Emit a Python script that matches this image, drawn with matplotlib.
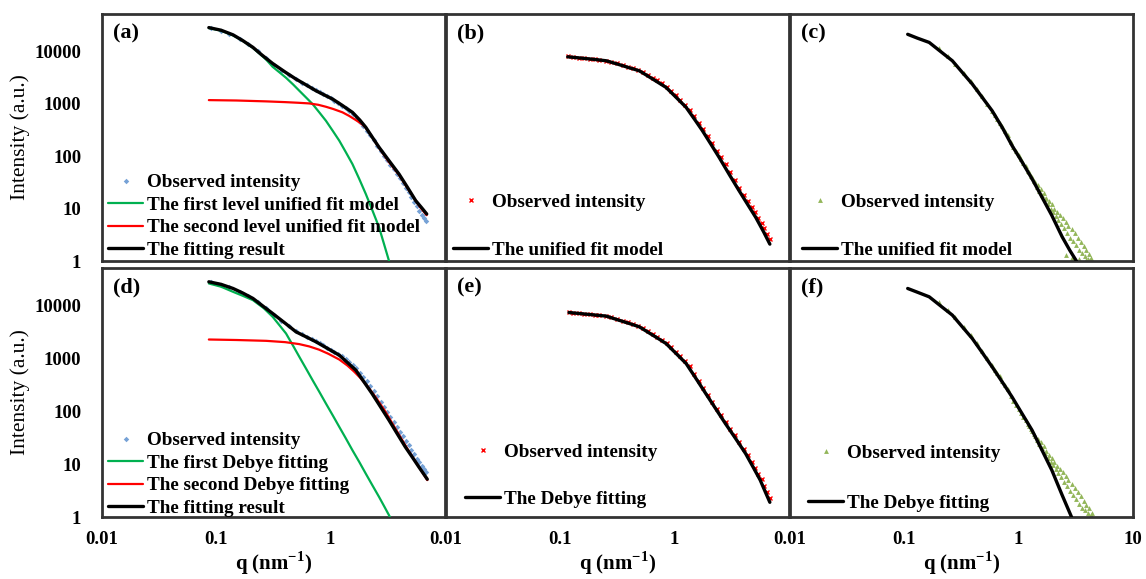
import matplotlib
matplotlib.use('Agg')
import matplotlib.pyplot as plt

plt.rcParams['font.family'] = ['Liberation Serif', 'DejaVu Serif']
plt.rcParams['mathtext.fontset'] = 'custom'
plt.rcParams['mathtext.rm'] = 'Liberation Serif'
plt.rcParams['mathtext.bf'] = 'Liberation Serif:bold'

# ---------------- (a) unified fit, two levels ----------------
a_obs_q = [0.09, 0.11, 0.13, 0.16, 0.19, 0.23, 0.27, 0.32, 0.37, 0.43, 0.5, 0.56, 0.62, 0.68,
           0.74, 0.8, 0.86, 0.93, 1.0, 1.08, 1.16, 1.25, 1.35, 1.45, 1.56, 1.68, 1.8, 1.93,
           2.07, 2.22, 2.38, 2.55, 2.73, 2.92, 3.12, 3.33, 3.55, 3.78, 4.02, 4.27, 4.53,
           4.8, 5.08, 5.37, 5.67, 5.98, 6.3, 6.6, 6.85]
a_obs_i = [27500, 25000, 22000, 17500, 13800, 10200, 7600, 5500, 4300, 3500, 2950, 2550, 2250,
           2000, 1820, 1660, 1530, 1400, 1280, 1150, 1040, 930, 830, 730, 640, 540, 450, 370,
           310, 250, 200, 158, 128, 102, 83, 68, 56, 46, 38, 31, 25, 20.5, 16.5, 13.5, 11,
           9.2, 7.6, 6.6, 5.8]
a_fit_q = [0.086, 0.11, 0.14, 0.17, 0.209, 0.25, 0.311, 0.4, 0.498, 0.6, 0.744, 0.88, 1.04,
           1.25, 1.55, 1.8, 2.03, 2.3, 2.65, 3.2, 3.96, 4.7, 5.54, 6.2, 6.92]
a_fit_i = [28600, 25500, 20800, 16200, 12000, 8600, 5900, 4050, 2970, 2350, 1780, 1480, 1235,
           950, 689, 490, 356, 235, 148, 85, 45.7, 25.4, 14.2, 10.6, 7.9]
a_lev1_q = [0.086, 0.11, 0.14, 0.17, 0.209, 0.24, 0.273, 0.311, 0.36, 0.407, 0.47, 0.532,
            0.61, 0.695, 0.8, 0.909, 1.05, 1.19, 1.35, 1.55, 1.78, 2.03, 2.33, 2.65, 2.95,
            3.24]
a_lev1_i = [28000, 25000, 20300, 16000, 11700, 9000, 7000, 5100, 3930, 3150, 2340, 1780, 1320,
            991, 677, 476, 299, 198, 122, 71, 36.7, 19, 9.0, 4.4, 2.0, 1.0]
a_lev2_q = [0.086, 0.15, 0.273, 0.4, 0.52, 0.65, 0.78, 0.91, 1.05, 1.27, 1.45, 1.66, 1.85,
            2.03, 2.3, 2.65, 3.2, 3.96, 5.0, 6.0, 6.9]
a_lev2_i = [1180, 1160, 1116, 1080, 1050, 1020, 960, 880, 800, 689, 590, 491, 420, 350, 235,
            145, 80, 44, 20, 11, 7.5]

# ---------------- (b) unified fit, one level ----------------
b_obs_q = [0.116, 0.13, 0.145, 0.16, 0.18, 0.2, 0.22, 0.25, 0.28, 0.31, 0.35, 0.39, 0.43,
           0.48, 0.53, 0.58, 0.64, 0.7, 0.77, 0.85, 0.93, 1.02, 1.12, 1.23, 1.35, 1.48, 1.62,
           1.78, 1.95, 2.14, 2.34, 2.56, 2.8, 3.06, 3.35, 3.66, 4.0, 4.35, 4.7, 5.05, 5.4,
           5.75, 6.1, 6.45, 6.8]
b_obs_i = [8100, 7800, 7650, 7450, 7250, 7100, 6950, 6700, 6350, 6000, 5550, 5150, 4800, 4450,
           4050, 3600, 3150, 2800, 2450, 2100, 1800, 1480, 1200, 960, 780, 580, 440, 330, 245,
           178, 128, 95, 70, 49, 35, 25, 18.5, 14, 10.8, 8.5, 6.6, 5.3, 4.2, 3.3, 2.6]
b_fit_q = [0.116, 0.15, 0.2, 0.252, 0.32, 0.4, 0.491, 0.6, 0.72, 0.84, 1.0, 1.26, 1.5, 1.75,
           2.1, 2.45, 3.0, 3.66, 4.3, 5.12, 6.0, 6.8]
b_fit_i = [7920, 7500, 7050, 6650, 5700, 4900, 4280, 3270, 2550, 2065, 1420, 857, 500, 307,
           163, 95, 45, 22, 12.5, 6.8, 3.6, 2.1]

# ---------------- (c) unified fit, one level ----------------
c_obs_q = [0.2, 0.24, 0.28, 0.33, 0.38, 0.43, 0.48, 0.53, 0.58, 0.62, 0.65, 0.68, 0.72, 0.76,
           0.8, 0.85, 0.9, 0.95, 1.0, 1.05, 1.1, 1.15, 1.2, 1.24, 1.28, 1.32, 1.36, 1.4, 1.44,
           1.48, 1.52, 1.56, 1.6, 1.65, 1.7, 1.75, 1.8, 1.85, 1.9, 1.95, 2.0, 2.05, 2.1, 2.16,
           2.22, 2.28, 2.35, 2.42, 2.5, 2.58, 2.6, 2.65, 2.72, 2.8, 2.9, 2.95, 3.0, 3.1, 3.2,
           3.3, 3.4, 3.4, 3.5, 3.6, 3.7, 3.8, 3.9, 3.9, 4.0, 4.1, 4.2, 4.3]
c_obs_i = [11500, 8200, 5900, 3900, 2700, 1900, 1400, 1000, 720, 600, 520, 440, 370, 300, 250,
           190, 150, 125, 105, 88, 75, 66, 52, 50, 42, 40, 34, 32, 26, 28, 22, 24, 18, 20, 15,
           16, 12, 14, 10, 12, 8.5, 10, 7.2, 8.5, 6, 7.5, 5, 6.5, 4.2, 5.5, 1.3, 3.4, 4.6, 2.8,
           4.0, 1.15, 2.4, 3.4, 2.0, 2.8, 1.6, 1.1, 2.3, 1.4, 1.9, 1.25, 1.6, 1.05, 1.1, 1.35,
           1.05, 1.15]
c_fit_q = [0.107, 0.13, 0.165, 0.21, 0.263, 0.32, 0.393, 0.48, 0.586, 0.72, 0.875, 1.07,
           1.31, 1.6, 1.95, 2.4, 2.8, 3.2]
c_fit_i = [21300, 18000, 14900, 9800, 6650, 4030, 2390, 1330, 739, 351, 160, 78, 37, 16.5,
           7.4, 2.9, 1.6, 1.0]

# ---------------- (d) Debye fitting, two terms ----------------
d_obs_q = a_obs_q
d_obs_i = [28000, 25300, 22300, 18600, 15300, 11800, 9200, 6800, 5250, 4100, 3300, 2900, 2600,
           2350, 2130, 1950, 1790, 1620, 1480, 1350, 1230, 1110, 980, 860, 750, 650, 540, 450,
           370, 300, 240, 192, 152, 122, 98, 79, 63, 51, 41, 34, 28, 23, 18.5, 15.5, 12.8,
           10.8, 9.2, 8.0, 7.0]
d_fit_q = [0.086, 0.11, 0.14, 0.17, 0.209, 0.26, 0.311, 0.4, 0.498, 0.6, 0.744, 0.95, 1.19,
           1.4, 1.66, 1.95, 2.3, 2.75, 3.24, 3.8, 4.5, 5.2, 5.9, 7.0]
d_fit_i = [28500, 25500, 21300, 17500, 13800, 9600, 7150, 4680, 3210, 2630, 2080, 1535, 1160,
           843, 604, 366, 218, 119, 68, 38.5, 21.2, 13.4, 8.9, 5.2]
d_deb1_q = [0.086, 0.11, 0.14, 0.17, 0.209, 0.26, 0.311, 0.36, 0.407, 0.47, 0.532, 0.61,
            0.695, 0.8, 0.909, 1.05, 1.19, 1.35, 1.55, 1.78, 2.03, 2.33, 2.65, 2.95, 3.3]
d_deb1_i = [26500, 23000, 18400, 15500, 12800, 9000, 6190, 4170, 2990, 1740, 1080, 643, 390,
            230, 141, 82, 50.8, 31.5, 18.4, 11, 6.6, 3.9, 2.4, 1.57, 1.0]
d_deb2_q = [0.086, 0.15, 0.273, 0.4, 0.532, 0.65, 0.79, 0.95, 1.19, 1.4, 1.6, 1.8, 2.1, 2.5,
            3.0, 3.8, 4.8, 6.0, 7.0]
d_deb2_i = [2300, 2250, 2170, 2050, 1880, 1700, 1480, 1240, 960, 740, 570, 440, 300, 180, 100,
            42, 18, 8.5, 5]

# ---------------- (e) Debye fitting ----------------
e_obs_q = [0.119, 0.13, 0.145, 0.16, 0.18, 0.2, 0.22, 0.25, 0.28, 0.31, 0.35, 0.39, 0.43,
           0.48, 0.53, 0.58, 0.64, 0.7, 0.77, 0.85, 0.93, 1.02, 1.12, 1.23, 1.35, 1.48, 1.62,
           1.78, 1.95, 2.14, 2.34, 2.56, 2.8, 3.06, 3.35, 3.66, 4.0, 4.35, 4.7, 5.05, 5.4,
           5.75, 6.1, 6.45, 6.8]
e_obs_i = [7600, 7400, 7250, 7100, 6950, 6800, 6650, 6450, 6100, 5700, 5250, 4850, 4500, 4150,
           3750, 3300, 2950, 2600, 2280, 1960, 1650, 1360, 1130, 890, 720, 510, 375, 280, 205,
           150, 113, 86, 63, 47, 35, 26, 19.5, 15, 11, 8.6, 6.5, 5.2, 3.8, 3.0, 2.3]
e_fit_q = [0.119, 0.15, 0.2, 0.252, 0.32, 0.4, 0.491, 0.6, 0.72, 0.84, 1.0, 1.26, 1.55, 1.87,
           2.3, 2.78, 3.4, 4.18, 4.9, 5.6, 6.2, 6.8]
e_fit_i = [7460, 7110, 6700, 6380, 5400, 4630, 4000, 3050, 2390, 1930, 1330, 806, 408, 218,
           110, 58.7, 31, 15.8, 8.5, 5.0, 3.0, 1.9]

# ---------------- (f) Debye fitting ----------------
f_obs_q = [0.2, 0.24, 0.28, 0.33, 0.38, 0.43, 0.48, 0.53, 0.58, 0.62, 0.65, 0.68, 0.72, 0.76,
           0.8, 0.85, 0.9, 0.95, 1.0, 1.05, 1.1, 1.15, 1.2, 1.24, 1.28, 1.32, 1.36, 1.4, 1.44,
           1.48, 1.52, 1.56, 1.6, 1.65, 1.7, 1.75, 1.8, 1.85, 1.9, 1.95, 2.0, 2.05, 2.1, 2.16,
           2.22, 2.28, 2.35, 2.42, 2.5, 2.58, 2.65, 2.72, 2.8, 2.9, 3.0, 3.1, 3.2, 3.3, 3.4,
           3.5, 3.6, 3.7, 3.8, 3.9, 4.0, 4.1, 4.25, 4.4]
f_obs_i = [11800, 8500, 6100, 4000, 2800, 1950, 1420, 1030, 760, 620, 540, 460, 380, 310, 260,
           200, 160, 130, 110, 92, 80, 68, 58, 54, 46, 43, 37, 34, 29, 30, 24, 26, 20, 22, 16,
           18, 13, 15, 11, 13, 9.5, 11, 8, 9.2, 6.8, 8.2, 5.6, 7, 4.6, 6, 3.8, 5, 3.1, 4.3,
           2.6, 3.6, 2.2, 3.0, 1.8, 2.5, 1.5, 2.0, 1.35, 1.7, 1.2, 1.45, 1.1, 1.2]
f_fit_q = [0.107, 0.13, 0.165, 0.21, 0.263, 0.32, 0.393, 0.48, 0.586, 0.72, 0.875, 1.07,
           1.31, 1.6, 1.95, 2.4, 2.9]
f_fit_i = [21300, 18100, 14800, 9770, 6660, 4040, 2400, 1300, 698, 358, 188, 91, 44, 18.4,
           7.7, 2.6, 1.0]

x_ticks = [0.01, 0.1, 1, 10]
x_ticklabels = ['0.01', '0.1', '1', '10']
y_ticks = [1, 10, 100, 1000, 10000]
y_ticklabels = ['1', '10', '100', '1000', '10000']

BLUE = '#76a2d6'
RED_PT = '#ff0000'
GREEN_PT = '#93b65a'
GREEN = '#00b050'
RED = '#ff0000'

fig = plt.figure(figsize=(11.46, 5.79), dpi=100)
W, H = 1146.0, 579.0
col_left = [102, 446, 790]
col_w = 343
rows = [(14, 261), (268, 517)]


def make_ax(r, c):
    top, bot = rows[r]
    ax = fig.add_axes([col_left[c] / W, (H - bot) / H, col_w / W, (bot - top) / H])
    ax.set_xscale('log')
    ax.set_yscale('log')
    ax.set_xlim(0.01, 10)
    ax.set_ylim(1, 52000)
    ax.minorticks_off()
    ax.set_xticks(x_ticks)
    ax.set_yticks(y_ticks)
    ax.tick_params(which='both', length=0)
    if r == 1:
        labs = x_ticklabels if c == 2 else x_ticklabels[:3] + ['']
        ax.set_xticklabels(labs, fontsize=13.5, fontweight='bold')
        ax.tick_params(axis='x', pad=10)
        ax.set_xlabel(r'q (nm$^{\mathbf{-1}}$)', fontsize=15, fontweight='bold', labelpad=1)
    else:
        ax.set_xticklabels([])
    if c == 0:
        ax.set_yticklabels(y_ticklabels, fontsize=13.5, fontweight='bold')
        ax.tick_params(axis='y', pad=15)
        ax.set_ylabel('Intensity (a.u.)', fontsize=15.5, labelpad=3)
    else:
        ax.set_yticklabels([])
    for s in ax.spines.values():
        s.set_linewidth(2.0)
        s.set_color('#333333')
    return ax


def draw(ax, tag, obs, curves, anchor, spacing):
    oq, oi, mk, col, ms, mew = obs
    h_obs, = ax.plot(oq, oi, linestyle='none', marker=mk, color=col, markersize=ms,
                     markeredgewidth=mew, zorder=2, label='Observed intensity')
    handles = [h_obs]
    for q, i, lc, lw, lab, z in curves:
        h, = ax.plot(q, i, color=lc, lw=lw, label=lab, zorder=z, solid_capstyle='round')
        handles.append(h)
    ax.legend(handles=handles, loc='lower left', bbox_to_anchor=anchor,
              borderpad=0, borderaxespad=0, handlelength=1.85, handletextpad=0.2,
              labelspacing=spacing, frameon=False, numpoints=1,
              prop={'weight': 'bold', 'size': 13.8})
    ax.text(0.032, 0.923, tag, transform=ax.transAxes, fontsize=16, fontweight='bold',
            va='center', ha='left')


ax = make_ax(0, 0)
draw(ax, '(a)', (a_obs_q, a_obs_i, 'D', BLUE, 2.8, 0),
     [(a_lev1_q, a_lev1_i, GREEN, 1.6, 'The first level unified fit model', 3),
      (a_lev2_q, a_lev2_i, RED, 1.6, 'The second level unified fit model', 3),
      (a_fit_q, a_fit_i, 'black', 2.4, 'The fitting result', 4)],
     (0.0175, 0.008), 0.27)

ax = make_ax(0, 1)
draw(ax, '(b)', (b_obs_q, b_obs_i, 'x', RED_PT, 3, 1.0),
     [(b_fit_q, b_fit_i, 'black', 2.4, 'The unified fit model', 4)],
     (0.02, 0.008), 1.6)

ax = make_ax(0, 2)
draw(ax, '(c)', (c_obs_q, c_obs_i, '^', GREEN_PT, 3.5, 0),
     [(c_fit_q, c_fit_i, 'black', 2.4, 'The unified fit model', 4)],
     (0.035, 0.008), 1.6)

ax = make_ax(1, 0)
draw(ax, '(d)', (d_obs_q, d_obs_i, 'D', BLUE, 2.8, 0),
     [(d_deb1_q, d_deb1_i, GREEN, 1.6, 'The first Debye fitting', 3),
      (d_deb2_q, d_deb2_i, RED, 1.6, 'The second Debye fitting', 3),
      (d_fit_q, d_fit_i, 'black', 2.4, 'The fitting result', 4)],
     (0.0175, 0.0), 0.27)

ax = make_ax(1, 1)
draw(ax, '(e)', (e_obs_q, e_obs_i, 'x', RED_PT, 3, 1.0),
     [(e_fit_q, e_fit_i, 'black', 2.4, 'The Debye fitting', 4)],
     (0.055, 0.036), 1.55)

ax = make_ax(1, 2)
draw(ax, '(f)', (f_obs_q, f_obs_i, '^', GREEN_PT, 3.5, 0),
     [(f_fit_q, f_fit_i, 'black', 2.4, 'The Debye fitting', 4)],
     (0.052, 0.02), 1.7)

fig.savefig('out.png', dpi=100)
